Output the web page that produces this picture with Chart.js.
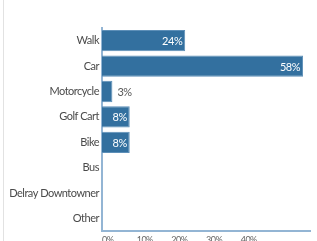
<!DOCTYPE html>
<html>
<head>
<meta charset="utf-8">
<script src="https://cdn.jsdelivr.net/npm/chart.js@4.4.0/dist/chart.umd.min.js"></script>
<style>
  html, body { margin: 0; padding: 0; background: #fff; overflow: hidden; }
  #wrap { position: relative; width: 317px; height: 241px; overflow: hidden; }
  #wrap:before { content: ""; position: absolute; left: 3px; top: 0; bottom: 0; width: 1px; background: #e2e2e2; }
  canvas { display: block; }
</style>
</head>
<body>
<div id="wrap"><canvas id="mycanvas1" width="317" height="248"></canvas></div>
<script>
// categories and values (percent)
var modes = ['Walk', 'Car', 'Motorcycle', 'Golf Cart', 'Bike', 'Bus', 'Delray Downtowner', 'Other'];
var shares = [24, 58, 3, 8, 8, 0, 0, 0];
var xTicks = [0, 10, 20, 30, 40];

var labelFont = 'Lato, sans-serif';

// tighter letters, the original uses a narrow face
var tightText = {
  id: 'tightText',
  beforeDraw: function(chart) { chart.ctx.letterSpacing = '-0.5px'; }
};

var barLabels = {
  id: 'barLabels',
  afterDatasetsDraw: function(chart) {
    var ctx = chart.ctx;
    var meta = chart.getDatasetMeta(0);
    ctx.save();
    ctx.font = '11px ' + labelFont;
    ctx.textBaseline = 'middle';
    meta.data.forEach(function(bar, i) {
      var v = shares[i];
      if (!v) return;
      var txt = v + '%';
      if (v >= 5) {
        ctx.fillStyle = '#ffffff';
        ctx.textAlign = 'right';
        ctx.fillText(txt, bar.x - 3, bar.y + 1);
      } else {
        ctx.fillStyle = '#555555';
        ctx.textAlign = 'left';
        ctx.fillText(txt, bar.x + 5, bar.y + 1);
      }
    });
    ctx.restore();
  }
};

var ctx = document.getElementById('mycanvas1');
var barGraph = new Chart(ctx, {
  type: 'bar',
  data: {
    labels: modes,
    datasets: [{
      data: shares,
      backgroundColor: '#33709f',
      borderColor: '#5d8fb8',
      borderWidth: 1,
      borderSkipped: 'left',
      barPercentage: 0.84,
      categoryPercentage: 1
    }]
  },
  options: {
    indexAxis: 'y',
    responsive: false,
    animation: false,
    layout: { padding: { top: 28, right: 7, left: 4, bottom: 0 } },
    plugins: { legend: { display: false }, tooltip: { enabled: false } },
    scales: {
      x: {
        min: 0, max: 60,
        afterBuildTicks: function(scale) {
          scale.ticks = xTicks.map(function(v) { return { value: v }; });
        },
        grid: { display: false, drawTicks: false },
        border: { color: '#93b5d4', width: 2 },
        ticks: {
          color: '#666',
          font: { size: 9, family: labelFont },
          padding: 3,
          align: 'start',
          maxRotation: 0,
          callback: function(v) { return v + '%'; }
        }
      },
      y: {
        grid: { display: false, drawTicks: false },
        border: { color: '#93b5d4', width: 2 },
        afterFit: function(scale) { scale.width = 98; },
        ticks: {
          color: '#4a4a4a',
          font: { size: 11, family: labelFont },
          padding: 3
        }
      }
    }
  },
  plugins: [tightText, barLabels]
});
</script>
</body>
</html>
